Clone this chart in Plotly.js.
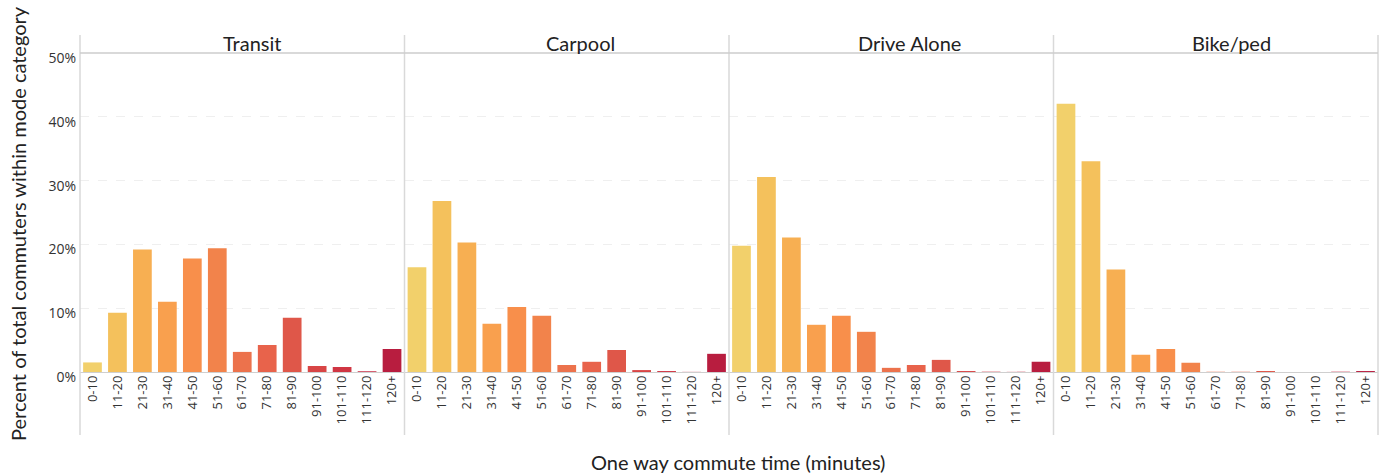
<!DOCTYPE html>
<html>
<head>
<meta charset="utf-8">
<script src="https://cdn.plot.ly/plotly-3.0.1.min.js"></script>
<style>html,body{margin:0;padding:0;background:#fff;}#chart{width:1384px;height:476px;}</style>
</head>
<body>
<div id="chart"></div>
<script>
const categories = ["0-10","11-20","21-30","31-40","41-50","51-60","61-70","71-80","81-90","91-100","101-110","111-120","120+"];
const modes = ["Transit","Carpool","Drive Alone","Bike/ped"];
const transit    = [1.5, 9.3, 19.2, 11.0, 17.8, 19.4, 3.15, 4.25, 8.5, 0.95, 0.8, 0.1, 3.6];
const carpool    = [16.4, 26.8, 20.3, 7.55, 10.2, 8.8, 1.1, 1.6, 3.45, 0.3, 0.15, 0.02, 2.85];
const driveAlone = [19.8, 30.55, 21.1, 7.4, 8.8, 6.3, 0.65, 1.1, 1.9, 0.15, 0.05, 0.02, 1.6];
const bikePed    = [42.05, 33.05, 16.05, 2.7, 3.6, 1.45, 0.05, 0.05, 0.15, 0, 0, 0.05, 0.15];
const barColors = ["#F2D06B","#F4C15C","#F7AF52","#F9A04E","#F88F4B","#F2834B","#EC724C","#E8634B","#DF5749","#D84545","#D03643","#C92E45","#B81D3F"];

const seriesList = [transit, carpool, driveAlone, bikePed];
const axisIds = ["", "2", "3", "4"];
const titleX = [252, 580, 910, 1231];

const traces = seriesList.map((vals, i) => ({
  type: "bar",
  x: categories,
  y: vals,
  xaxis: "x" + axisIds[i],
  yaxis: "y",
  marker: {color: barColors},
  hoverinfo: "x+y",
  showlegend: false
}));

const W = 1384, H = 476;
const mL = 80, mR = 6, mT = 53, mB = 104;
const plotH = H - mT - mB;
const pyFromPx = px => (H - mB - px) / plotH;

const layout = {
  width: W, height: H,
  margin: {l: mL, r: mR, t: mT, b: mB, pad: 0},
  paper_bgcolor: "#fff",
  plot_bgcolor: "#fff",
  bargap: 0.25,
  font: {family: "Open Sans, sans-serif", color: "#333"},
  yaxis: {
    range: [0, 50],
    tickvals: [0, 10, 20, 30, 40, 50],
    ticktext: ["0%", "10%", "20%", "30%", "40%", "50%"],
    tickfont: {family: "Open Sans", size: 14, color: "#333"},
    ticks: "",
    ticklabelshift: 5,
    ticklabelstandoff: 3,
    showgrid: true,
    gridcolor: "#efefef",
    griddash: "dash",
    gridwidth: 1,
    zeroline: true,
    zerolinecolor: "#cfcfcf",
    zerolinewidth: 1,
    showline: false,
    fixedrange: true
  },
  shapes: [],
  annotations: []
};

for (let i = 0; i < 4; i++) {
  const key = "xaxis" + axisIds[i];
  layout[key] = {
    domain: [i * 0.25, (i + 1) * 0.25],
    anchor: "y",
    type: "category",
    tickangle: -90,
    tickfont: {family: "Open Sans", size: 13, color: "#333"},
    ticks: "",
    showgrid: false,
    showline: false,
    zeroline: false,
    fixedrange: true
  };
  layout.annotations.push({
    text: modes[i],
    xref: "paper", yref: "paper",
    x: (titleX[i] - mL) / (W - mL - mR),
    y: pyFromPx(43),
    xanchor: "center", yanchor: "middle",
    showarrow: false,
    font: {family: "Lato, sans-serif", size: 20, color: "#222"}
  });
}

// vertical panel separators
for (let i = 0; i <= 4; i++) {
  layout.shapes.push({
    type: "line", xref: "paper", yref: "paper",
    x0: i * 0.25, x1: i * 0.25,
    y0: pyFromPx(435), y1: pyFromPx(35),
    line: {color: "#d9d9d9", width: 1.5}
  });
}
// header line
layout.shapes.push({
  type: "line", xref: "paper", yref: "paper",
  x0: 0, x1: 1, y0: 1, y1: 1,
  line: {color: "#cccccc", width: 1.5}
});

// axis titles as annotations
layout.annotations.push({
  text: "One way commute time (minutes)",
  xref: "paper", yref: "paper",
  x: (738 - mL) / (W - mL - mR),
  y: pyFromPx(462),
  xanchor: "center", yanchor: "middle",
  showarrow: false,
  font: {family: "Lato, sans-serif", size: 20, color: "#222"}
});
layout.annotations.push({
  text: "Percent of total commuters within mode category",
  xref: "paper", yref: "paper",
  x: (18 - mL) / (W - mL - mR),
  y: pyFromPx(224),
  xanchor: "center", yanchor: "middle",
  textangle: -90,
  showarrow: false,
  font: {family: "Lato, sans-serif", size: 20, color: "#222"}
});

Plotly.newPlot("chart", traces, layout, {displayModeBar: false, staticPlot: true});
</script>
</body>
</html>
